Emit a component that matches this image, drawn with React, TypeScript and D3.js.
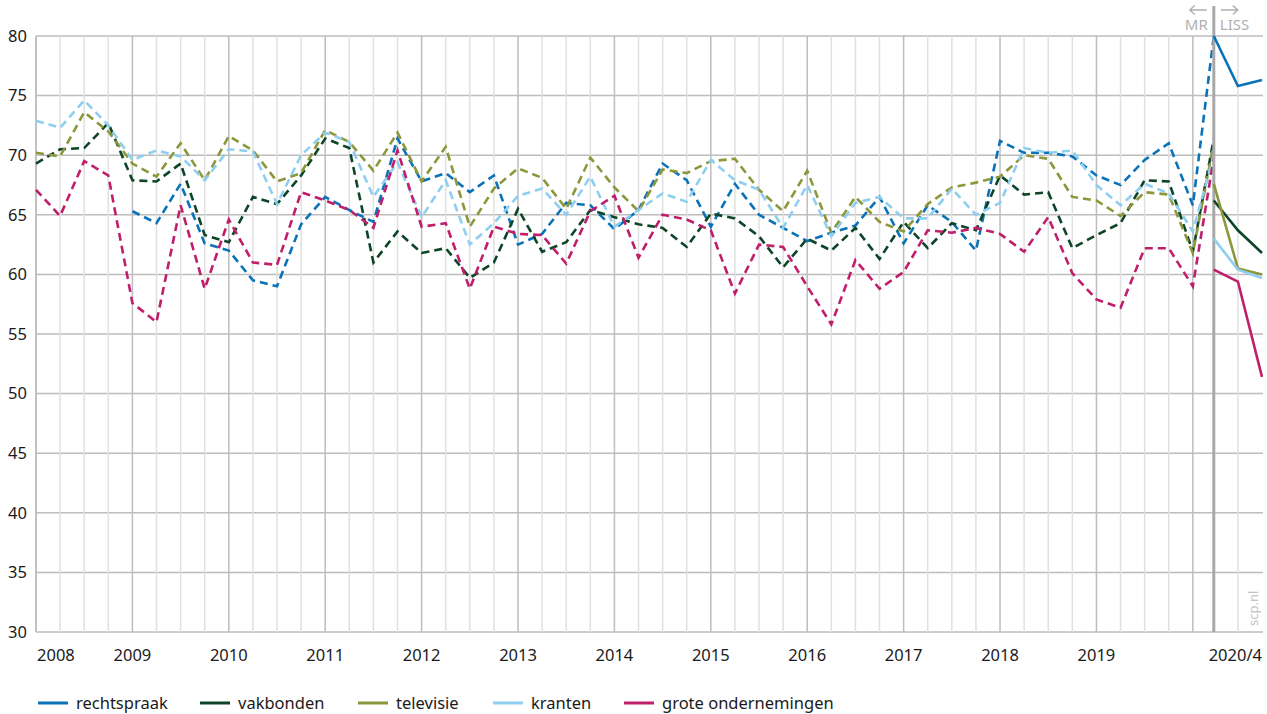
import React from "react";
import * as d3 from "d3";

// Quarterly MR points 2008Q1..2020Q1 (index 0..48) plus the last MR point at the LISS divider
const mrPositions = [
  0, 1, 2, 3, 4, 5, 6, 7, 8, 9, 10, 11, 12, 13, 14, 15, 16, 17, 18, 19, 20, 21, 22, 23, 24,
  25, 26, 27, 28, 29, 30, 31, 32, 33, 34, 35, 36, 37, 38, 39, 40, 41, 42, 43, 44, 45, 46, 47, 48, 48.87,
];
const lissPositions = [48.87, 49.87, 50.87];
const dividerPos = 48.87;

const yearLabels = ["2008", "2009", "2010", "2011", "2012", "2013", "2014", "2015", "2016", "2017", "2018", "2019"];
const lastLabel = "2020/4";
const yTicks = [30, 35, 40, 45, 50, 55, 60, 65, 70, 75, 80];

const seriesNames = ["rechtspraak", "vakbonden", "televisie", "kranten", "grote ondernemingen"];
const seriesColors = ["#0a72b8", "#0d4528", "#8c963a", "#8ecff0", "#c01e6b"];

const rechtspraakMR = [
  null, null, null, null, 65.3, 64.3, 67.6, 62.6, 62.0, 59.5, 59.0, 64.2, 66.5, 65.4, 64.4, 71.4,
  67.8, 68.5, 66.9, 68.3, 62.5, 63.4, 66.0, 65.8, 63.8, 65.4, 69.3, 67.9, 64.0, 67.6, 65.0, 63.9,
  62.8, 63.5, 64.1, 66.5, 62.6, 65.8, 64.4, 62.0, 71.2, 70.2, 70.2, 69.9, 68.3, 67.5, 69.6, 71.0,
  65.8, 80.0,
];
const vakbondenMR = [
  69.3, 70.5, 70.6, 72.7, 67.9, 67.8, 69.3, 63.3, 62.7, 66.5, 65.9, 68.3, 71.4, 70.6, 61.0, 63.6,
  61.8, 62.2, 59.7, 61.0, 65.5, 61.9, 62.7, 65.4, 64.8, 64.2, 63.9, 62.3, 65.1, 64.7, 63.2, 60.6,
  63.0, 62.0, 63.9, 61.3, 64.4, 62.2, 64.3, 63.7, 68.3, 66.7, 66.9, 62.2, 63.3, 64.3, 67.9, 67.8,
  61.9, 71.4,
];
const televisieMR = [
  70.2, 69.9, 73.6, 72.0, 69.3, 68.2, 71.0, 67.9, 71.6, 70.4, 67.8, 68.5, 72.1, 71.1, 68.7, 71.9,
  67.8, 70.7, 64.0, 67.2, 68.9, 68.1, 65.5, 69.8, 67.3, 65.3, 68.8, 68.5, 69.5, 69.7, 67.1, 65.3,
  68.7, 63.5, 66.5, 64.4, 63.6, 65.9, 67.3, 67.7, 68.2, 70.0, 69.7, 66.5, 66.2, 64.9, 66.9, 66.7,
  61.8, 71.0,
];
const krantenMR = [
  72.9, 72.3, 74.6, 72.5, 69.6, 70.4, 69.9, 67.9, 70.5, 70.3, 65.9, 70.0, 71.9, 71.1, 66.5, 69.4,
  64.8, 67.9, 62.5, 64.3, 66.6, 67.2, 65.0, 68.2, 64.0, 65.4, 66.8, 66.1, 69.6, 67.9, 67.1, 63.9,
  67.5, 63.2, 66.0, 66.5, 64.7, 64.7, 67.2, 65.0, 66.0, 70.6, 70.2, 70.4, 67.5, 65.8, 67.6, 66.8,
  63.6, 70.0,
];
const groteMR = [
  67.1, 64.9, 69.5, 68.3, 57.6, 56.0, 65.8, 58.8, 64.6, 61.0, 60.8, 66.9, 66.2, 65.4, 63.9, 70.4,
  64.0, 64.3, 58.8, 64.0, 63.4, 63.3, 60.9, 65.3, 66.6, 61.4, 65.0, 64.6, 63.7, 58.4, 62.5, 62.3,
  59.0, 55.8, 61.2, 58.8, 60.2, 63.7, 63.5, 63.9, 63.4, 61.9, 64.8, 60.1, 57.9, 57.2, 62.2, 62.2,
  59.0, 69.8,
];

const rechtspraakLISS = [80.0, 75.8, 76.3];
const vakbondenLISS = [66.2, 63.7, 61.8];
const televisieLISS = [67.6, 60.5, 60.0];
const krantenLISS = [63.0, 60.4, 59.7];
const groteLISS = [60.4, 59.4, 51.4];

const mrData = [rechtspraakMR, vakbondenMR, televisieMR, krantenMR, groteMR];
const lissData = [rechtspraakLISS, vakbondenLISS, televisieLISS, krantenLISS, groteLISS];

const FONT = "'Noto Sans', 'Open Sans', sans-serif";

export default function App() {
  const W = 1267;
  const H = 714;
  const left = 36;
  const right = 1262;
  const top = 36;
  const bottom = 632;

  const x = d3.scaleLinear().domain([0, 50.87]).range([left, right]);
  const y = d3.scaleLinear().domain([30, 80]).range([bottom, top]);

  const line = d3
    .line<{ px: number; v: number | null }>()
    .defined((d) => d.v !== null)
    .x((d) => x(d.px))
    .y((d) => y(d.v as number));

  const quarterIdx = d3.range(0, 49);
  const dx = x(dividerPos);
  const grey = "#b0b0b0";

  return (
    <div style={{ position: "fixed", left: 0, top: 0 }}>
      <svg width={W} height={H} style={{ display: "block", background: "#fff" }} fontFamily={FONT}>
        {/* horizontal grid */}
        {yTicks.map((t) => (
          <line key={"h" + t} x1={left} x2={right + 1} y1={y(t)} y2={y(t)} stroke="#bdbdbd" strokeWidth={1.5} />
        ))}
        {/* vertical grid */}
        {quarterIdx.map((i) => (
          <line
            key={"v" + i}
            x1={x(i)}
            x2={x(i)}
            y1={top}
            y2={bottom}
            stroke={i % 4 === 0 ? "#bdbdbd" : "#e0e0e0"}
            strokeWidth={1.5}
          />
        ))}
        <line x1={x(49.87)} x2={x(49.87)} y1={top} y2={bottom} stroke="#e0e0e0" strokeWidth={1.5} />
        {/* left axis */}
        <line x1={left} x2={left} y1={top} y2={bottom} stroke="#bdbdbd" strokeWidth={1.5} />

        {/* y labels */}
        {yTicks.map((t) => (
          <text key={"yl" + t} x={27} y={y(t)} dy="0.35em" textAnchor="end" fontSize={16.5} fill="#1a1a1a">
            {t}
          </text>
        ))}

        {/* x labels */}
        {yearLabels.map((lab, k) => (
          <text
            key={"xl" + lab}
            x={k === 0 ? left + 1 : x(k * 4)}
            y={661}
            textAnchor={k === 0 ? "start" : "middle"}
            fontSize={16.5}
            fill="#1a1a1a"
          >
            {lab}
          </text>
        ))}
        <text x={right} y={661} textAnchor="end" fontSize={16.5} fill="#1a1a1a">
          {lastLabel}
        </text>

        {/* scp.nl */}
        <text transform={`translate(${1258},${626}) rotate(-90)`} fontSize={13} fill="#c4c4c4" textAnchor="start">
          scp.nl
        </text>

        {/* MR dashed lines */}
        {mrData.map((vals, s) => (
          <path
            key={"mr" + s}
            d={line(vals.map((v, i) => ({ px: mrPositions[i], v }))) || ""}
            fill="none"
            stroke={seriesColors[s]}
            strokeWidth={2.6}
            strokeDasharray="8,5"
          />
        ))}

        {/* divider */}
        <line x1={dx} x2={dx} y1={6} y2={bottom} stroke="#a8a8a8" strokeWidth={3} />
        {/* arrows */}
        <path d={`M${dx - 7},10 H${dx - 24} M${dx - 19},5.5 L${dx - 24},10 L${dx - 19},14.5`} fill="none" stroke={grey} strokeWidth={1.5} />
        <path d={`M${dx + 7},10 H${dx + 24} M${dx + 19},5.5 L${dx + 24},10 L${dx + 19},14.5`} fill="none" stroke={grey} strokeWidth={1.5} />
        <text x={dx - 6} y={30} textAnchor="end" fontSize={15} fill={grey}>
          MR
        </text>
        <text x={dx + 6} y={30} textAnchor="start" fontSize={15} fill={grey}>
          LISS
        </text>

        {/* LISS solid lines */}
        {lissData.map((vals, s) => (
          <path
            key={"liss" + s}
            d={line(vals.map((v, i) => ({ px: lissPositions[i], v }))) || ""}
            fill="none"
            stroke={seriesColors[s]}
            strokeWidth={2.6}
          />
        ))}

        {/* legend */}
        {(() => {
          const starts = [38, 200, 358, 493, 624];
          return seriesNames.map((name, s) => (
            <g key={"lg" + s}>
              <line x1={starts[s]} x2={starts[s] + 30} y1={703} y2={703} stroke={seriesColors[s]} strokeWidth={3} />
              <text x={starts[s] + 38} y={703} dy="0.35em" fontSize={16.5} fill="#1a1a1a">
                {name}
              </text>
            </g>
          ));
        })()}
      </svg>
    </div>
  );
}
